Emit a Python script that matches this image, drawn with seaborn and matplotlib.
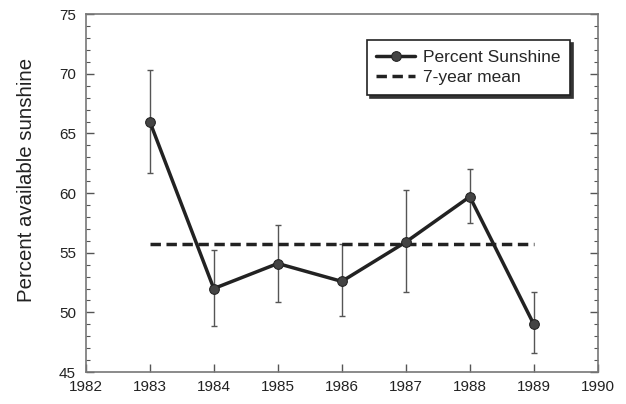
import matplotlib
matplotlib.use("Agg")
import matplotlib.pyplot as plt
import seaborn as sns
import pandas as pd
from matplotlib.ticker import MultipleLocator

years = [1983, 1984, 1985, 1986, 1987, 1988, 1989]
sunshine = [66.0, 52.0, 54.1, 52.6, 55.9, 59.7, 49.0]
err_low = [61.7, 48.9, 50.9, 49.7, 51.7, 57.5, 46.6]
err_high = [70.3, 55.2, 57.3, 55.7, 60.3, 62.0, 51.7]
mean_value = 55.7
xticks = [1982, 1983, 1984, 1985, 1986, 1987, 1988, 1989, 1990]
yticks = [45, 50, 55, 60, 65, 70, 75]

sns.set_style("ticks")
plt.rcParams['font.family'] = ['Liberation Sans', 'DejaVu Sans']

df = pd.DataFrame({"year": years, "sunshine": sunshine})

fig = plt.figure(figsize=(6.26, 4.04), dpi=100)
ax = fig.add_axes([0.137, 0.079, 0.818, 0.886])

lower = [s - l for s, l in zip(sunshine, err_low)]
upper = [h - s for s, h in zip(sunshine, err_high)]
ax.errorbar(years, sunshine, yerr=[lower, upper], fmt='none', ecolor='#555555',
            elinewidth=1.0, capsize=2.5, capthick=1.0, zorder=2)

sns.lineplot(data=df, x="year", y="sunshine", ax=ax, color='#222222', linewidth=2.5,
             marker='o', markersize=7, markerfacecolor='#444444', markeredgecolor='#222222',
             label='Percent Sunshine', zorder=3)
ax.plot([years[0], years[-1]], [mean_value, mean_value], color='#222222', linestyle=(0, (3, 1.6)),
        linewidth=2.5, label='7-year mean', zorder=2)

ax.set_xlim(1982, 1990)
ax.set_ylim(45, 75)
ax.set_xticks(xticks)
ax.set_xticklabels([str(t) for t in xticks])
ax.set_yticks(yticks)
ax.yaxis.set_minor_locator(MultipleLocator(1))
ax.tick_params(axis='both', which='both', direction='in', colors='#555555', labelcolor='#222222',
               labelsize=11, right=True)
ax.tick_params(axis='both', which='major', length=6, width=1)
ax.tick_params(axis='y', which='minor', length=3, width=0.8)
ax.tick_params(axis='x', which='major', pad=6)
ax.tick_params(axis='y', which='major', pad=7)
for sp in ax.spines.values():
    sp.set_visible(True)
    sp.set_color('#777777')
    sp.set_linewidth(1.2)

ax.set_xlabel("")
ax.set_ylabel("Percent available sunshine", fontsize=14.7, color='#222222')
ax.yaxis.set_label_coords(-0.097, 0.536)

leg = ax.legend(loc='upper left', bbox_to_anchor=(0.549, 0.927), borderaxespad=0,
                frameon=True, fancybox=False,
                shadow={'color': '#333333', 'alpha': 1.0, 'ox': 2.2, 'oy': -2.2},
                edgecolor='#222222', fontsize=12.5,
                handlelength=2.2, borderpad=0.55, labelspacing=0.3, handletextpad=0.5)
leg.get_frame().set_linewidth(1.2)

fig.savefig("out.png", dpi=100)
